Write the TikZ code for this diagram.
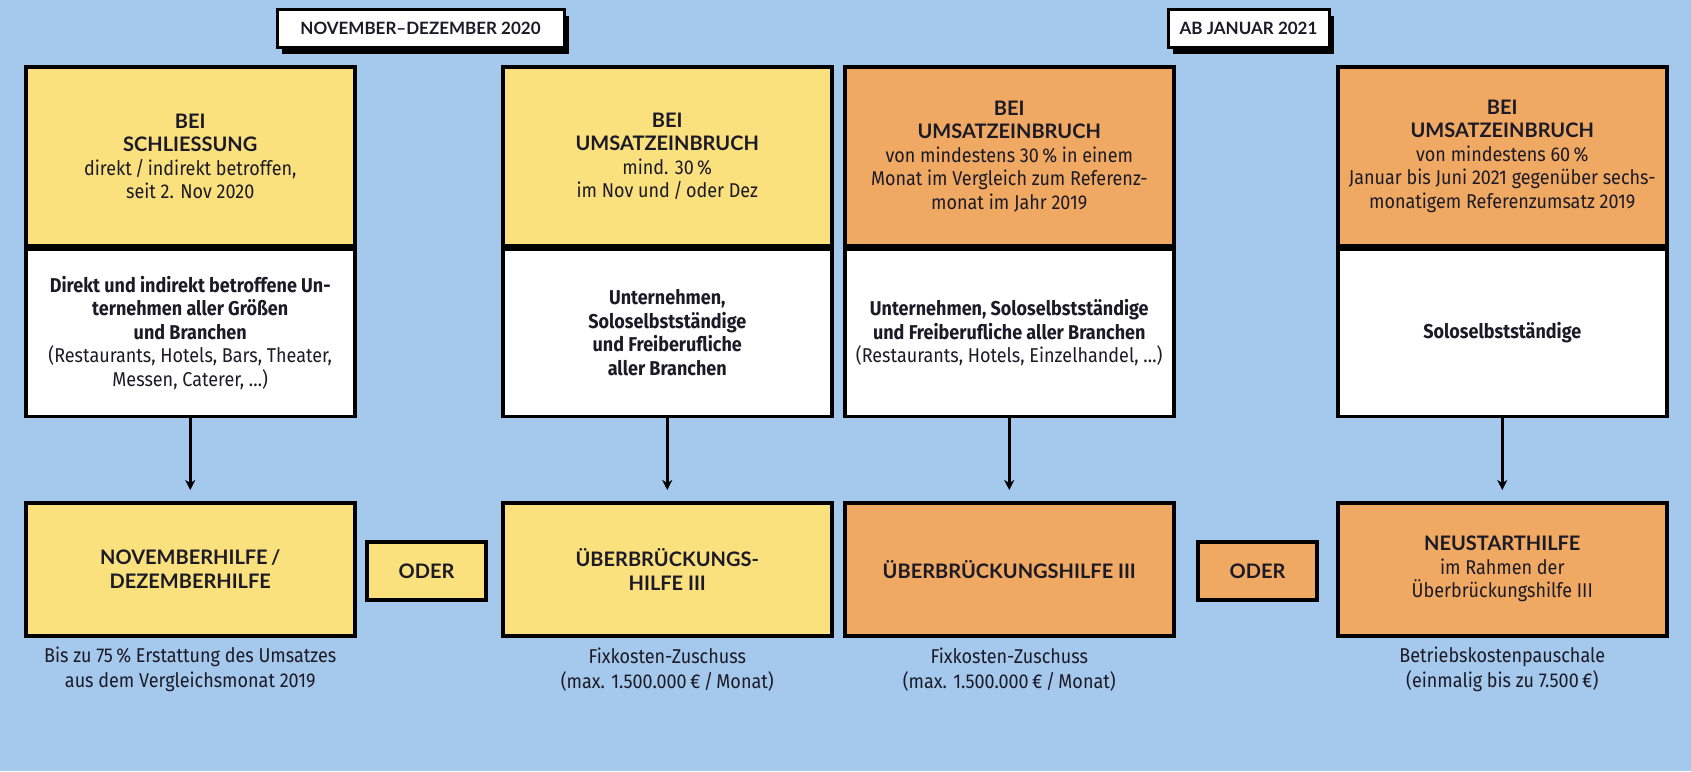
\documentclass[tikz,border=0pt]{standalone}
\usepackage{fontspec}
\setmainfont{Fira Sans}[FakeStretch=0.9]
\newfontfamily\headfont{Lato}
\usetikzlibrary{arrows.meta,shadows}
\definecolor{bg}{HTML}{A4C9EC}
\definecolor{yel}{HTML}{FAE17D}
\definecolor{ora}{HTML}{F0A963}
\definecolor{ink}{HTML}{1C1A26}
\newcommand\hd[1]{{\headfont\bfseries\fontsize{20}{23.5}\selectfont #1}}
\begin{document}
\begin{tikzpicture}[x=1pt,y=-1pt,
  hbox/.style={draw=black, line width=3.5pt, inner sep=0pt, text=ink, align=center,
    minimum width=329pt, font=\fontsize{20}{23.5}\selectfont},
  topbox/.style={hbox, anchor=north west, minimum height=179pt},
  lowbox/.style={hbox, anchor=north, minimum height=167pt, fill=white},
  resbox/.style={hbox, anchor=north west, minimum height=133pt},
  oderbox/.style={hbox, minimum width=119pt, minimum height=58pt},
  labbox/.style={draw=black, line width=3pt, fill=white, inner sep=0pt, minimum height=38pt,
    text=ink, font=\headfont\bfseries\fontsize{17}{18}\selectfont,
    drop shadow={opacity=1, fill=black, shadow xshift=5pt, shadow yshift=-7pt}},
  capt/.style={align=center, text=ink, font=\fontsize{20}{24.5}\selectfont},
  arr/.style={line width=2.5pt, -{Stealth[length=10pt,width=10pt,inset=3pt]}, shorten >=11pt}
]
\useasboundingbox[fill=bg] (0,0) rectangle (1691,771);

% period labels
\node[labbox, minimum width=287pt] (l1) at (420.5,28) {NOVEMBER–DEZEMBER 2020};
\node[labbox, minimum width=161pt] (l2) at (1248.5,28) {AB JANUAR 2021};

% top condition boxes
\node[topbox, fill=yel] (t1) at (24,65) {\hd{BEI}\\ \hd{SCHLIESSUNG}\\ direkt\,/\,indirekt betroffen,\\ seit 2. Nov 2020};
\node[topbox, fill=yel] (t2) at (501,65) {\hd{BEI}\\ \hd{UMSATZEINBRUCH}\\ mind. 30\,\%\\ im Nov und\,/\,oder Dez};
\node[topbox, fill=ora] (t3) at (843,65) {\hd{BEI}\\ \hd{UMSATZEINBRUCH}\\ von mindestens 30\,\% in einem\\ Monat im Vergleich zum Referenz-\\ monat im Jahr 2019};
\node[topbox, fill=ora] (t4) at (1336,65) {\hd{BEI}\\ \hd{UMSATZEINBRUCH}\\ von mindestens 60\,\%\\ Januar bis Juni 2021 gegenüber sechs-\\ monatigem Referenzumsatz 2019};

% who
\node[lowbox] (w1) at (t1.south) {\textbf{Direkt und indirekt betroffene Un-}\\ \textbf{ternehmen aller Größen}\\ \textbf{und Branchen}\\ (Restaurants, Hotels, Bars, Theater,\\ Messen, Caterer, \dots)};
\node[lowbox] (w2) at (t2.south) {\textbf{Unternehmen,}\\ \textbf{Soloselbstständige}\\ \textbf{und Freiberufliche}\\ \textbf{aller Branchen}};
\node[lowbox] (w3) at (t3.south) {\textbf{Unternehmen, Soloselbstständige}\\ \textbf{und Freiberufliche aller Branchen}\\ (Restaurants, Hotels, Einzelhandel, \dots)};
\node[lowbox] (w4) at (t4.south) {\textbf{Soloselbstständige}};

% results
\node[resbox, fill=yel] (r1) at (24,501) {\hd{NOVEMBERHILFE\,/}\\ \hd{DEZEMBERHILFE}};
\node[resbox, fill=yel] (r2) at (501,501) {\hd{ÜBERBRÜCKUNGS-}\\ \hd{HILFE III}};
\node[resbox, fill=ora] (r3) at (843,501) {\hd{ÜBERBRÜCKUNGSHILFE III}};
\node[resbox, fill=ora] (r4) at (1336,501) {\hd{NEUSTARTHILFE}\\ im Rahmen der\\ Überbrückungshilfe III};

\node[oderbox, fill=yel] (o1) at (426.5,571) {\hd{ODER}};
\node[oderbox, fill=ora] (o2) at (1257.5,571) {\hd{ODER}};

% arrows
\foreach \i in {1,2,3,4} \draw[arr] (w\i.south) -- (r\i.north);

% captions
\node[capt] (c1) at (r1.south |- 0,669.5) {Bis zu 75\,\% Erstattung des Umsatzes\\ aus dem Vergleichsmonat 2019};
\node[capt] (c2) at (r2.south |- 0,669.5) {Fixkosten-Zuschuss\\ (max. 1.500.000\,€\,/\,Monat)};
\node[capt] (c3) at (r3.south |- 0,669.5) {Fixkosten-Zuschuss\\ (max. 1.500.000\,€\,/\,Monat)};
\node[capt] (c4) at (r4.south |- 0,669.5) {Betriebskostenpauschale\\ (einmalig bis zu 7.500\,€)};
\end{tikzpicture}
\end{document}
